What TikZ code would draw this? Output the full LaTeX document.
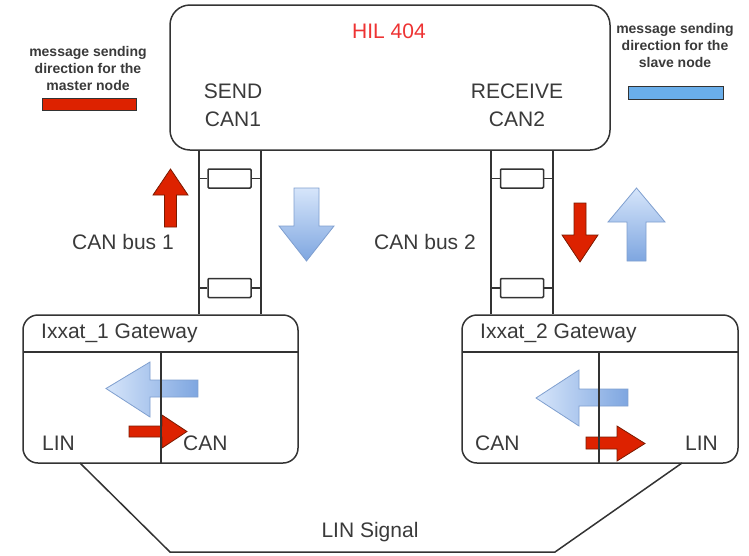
\documentclass[tikz,border=0pt]{standalone}
\usepackage{fontspec}
\setmainfont{Liberation Sans}
\usetikzlibrary{calc}
\definecolor{ln}{HTML}{333333}
\definecolor{txt}{HTML}{3A3A3A}
\definecolor{redf}{HTML}{DD2200}
\definecolor{redd}{HTML}{7A1A00}
\definecolor{bluetop}{HTML}{D6E5FA}
\definecolor{bluebot}{HTML}{7EA6E0}
\definecolor{blueln}{HTML}{7F9FCF}
\definecolor{legblue}{HTML}{6AAEEA}
\definecolor{hilred}{HTML}{EE3333}
\begin{document}
\begin{tikzpicture}[x=1pt,y=-1pt,
  box/.style={draw=ln, line width=1.5pt, rounded corners=#1, inner sep=0pt, fill=white},
  wire/.style={draw=ln, line width=1.5pt},
  resbox/.style={draw=ln, line width=1.5pt, rounded corners=1pt, minimum width=43pt, minimum height=19pt, inner sep=0pt, fill=white},
  big/.style={text=txt, font=\fontsize{21}{26}\selectfont, inner sep=0pt},
  leg/.style={text=txt, font=\fontsize{14}{17}\selectfont\bfseries, align=center, inner sep=0pt},
  redarrow/.style={fill=redf, draw=redd, line width=0.8pt, line join=miter},
  bluev/.style={top color=bluetop, bottom color=bluebot, draw=blueln, line width=0.8pt},
  blueh/.style={left color=bluetop, right color=bluebot, draw=blueln, line width=0.8pt}]
\useasboundingbox (0,0) rectangle (749,555);

% HIL box
\node[box=20pt, minimum width=440pt, minimum height=145pt] (hil) at (390,77.5) {};
\node[text=hilred, font=\fontsize{21}{26}\selectfont, inner sep=0pt] (hiltitle) at (389,31) {HIL 404};
\node[big, align=center, font=\fontsize{21}{28}\selectfont] (send) at (233,105) {SEND\\CAN1};
\node[big, align=center, font=\fontsize{21}{28}\selectfont] (recv) at (517,105) {RECEIVE\\CAN2};

% legends
\node[leg] (legm) at (88,68) {message sending\\direction for the\\master node};
\node[draw=ln, line width=1pt, fill=redf, minimum width=94pt, minimum height=12pt, inner sep=0pt] (legmbar) at (89,104) {};
\node[leg] (legs) at (675,45) {message sending\\direction for the\\slave node};
\node[draw=ln, line width=1pt, fill=legblue, minimum width=95pt, minimum height=13pt, inner sep=0pt] (legsbar) at (675.5,92.5) {};

% gateways
\node[box=15pt, minimum width=275pt, minimum height=148pt] (gw1) at (160.5,389) {};
\node[box=15pt, minimum width=276pt, minimum height=148pt] (gw2) at (600,389) {};
\coordinate (h1l) at (23,352); \coordinate (h1r) at (298,352);
\coordinate (h2l) at (462,352); \coordinate (h2r) at (738,352);
\draw[wire] (h1l) -- (h1r);
\draw[wire] (h2l) -- (h2r);
\node[big, anchor=west] (gw1t) at (41,333) {Ixxat\_1 Gateway};
\node[big, anchor=west] (gw2t) at (480,333) {Ixxat\_2 Gateway};
\node[big, anchor=base west] (gw1lin) at (42,450) {LIN};
\node[big, anchor=base west] (gw1can) at (183,450) {CAN};
\node[big, anchor=base west] (gw2can) at (475,450) {CAN};
\node[big, anchor=base east] (gw2lin) at (718,450) {LIN};

% arrows inside gateways
\path[blueh] (106,388.5) -- (150,362) -- (150,380) -- (198,380) -- (198,397) -- (150,397) -- (150,417) -- cycle;
\path[redarrow] (129,426) -- (162,426) -- (162,415) -- (187,431.5) -- (162,448) -- (162,437) -- (129,437) -- cycle;
\path[blueh] (536,398) -- (579,370) -- (579,389) -- (628,389) -- (628,406) -- (579,406) -- (579,426) -- cycle;
\path[redarrow] (586,437) -- (617,437) -- (617,426) -- (645,443.5) -- (617,461) -- (617,449) -- (586,449) -- cycle;

% dividers
\coordinate (d1t) at (161,352); \coordinate (d2t) at (599,352);
\draw[wire] (d1t) -- (d1t |- gw1.south);
\draw[wire] (d2t) -- (d2t |- gw2.south);

% CAN bus 1
\coordinate (b1l) at (199,150); \coordinate (b1r) at (261,150);
\draw[wire] (b1l) -- (b1l |- gw1.north);
\draw[wire] (b1r) -- (b1r |- gw1.north);
\node[resbox] (r1a) at (229.5,178.5) {};
\node[resbox] (r1b) at (229.5,288) {};
\draw[wire] (r1a.west) -- (r1a.west -| b1l);
\draw[wire] (r1a.east) -- (r1a.east -| b1r);
\draw[wire] (r1b.west) -- (r1b.west -| b1l);
\draw[wire] (r1b.east) -- (r1b.east -| b1r);
\node[big] (bus1) at (123,242) {CAN bus 1};

% CAN bus 2
\coordinate (b2l) at (491,150); \coordinate (b2r) at (553,150);
\draw[wire] (b2l) -- (b2l |- gw2.north);
\draw[wire] (b2r) -- (b2r |- gw2.north);
\node[resbox] (r2a) at (522,178.5) {};
\node[resbox] (r2b) at (522,288) {};
\draw[wire] (r2a.west) -- (r2a.west -| b2l);
\draw[wire] (r2a.east) -- (r2a.east -| b2r);
\draw[wire] (r2b.west) -- (r2b.west -| b2l);
\draw[wire] (r2b.east) -- (r2b.east -| b2r);
\node[big] (bus2) at (425,242) {CAN bus 2};

% bus arrows
\path[redarrow] (164.5,227) -- (164.5,195) -- (153,195) -- (170.5,169) -- (188,195) -- (176.5,195) -- (176.5,227) -- cycle;
\path[bluev] (294,188) -- (319,188) -- (319,226) -- (334,226) -- (306.5,261) -- (279,226) -- (294,226) -- cycle;
\path[redarrow] (574,203) -- (586,203) -- (586,235) -- (598,235) -- (580,262) -- (562,235) -- (574,235) -- cycle;
\path[bluev] (627,261) -- (627,222) -- (608,222) -- (636.5,188) -- (665,222) -- (646,222) -- (646,261) -- cycle;

% LIN signal
\coordinate (lin1) at (80,463);
\coordinate (lin2) at (682,463);
\coordinate (linb1) at (170,552);
\coordinate (linb2) at (555,552);
\draw[wire, line join=miter] (lin1) -- (linb1) -- (linb2) -- (lin2);
\node[big] (linsig) at (370,532) {LIN Signal};
\end{tikzpicture}
\end{document}
